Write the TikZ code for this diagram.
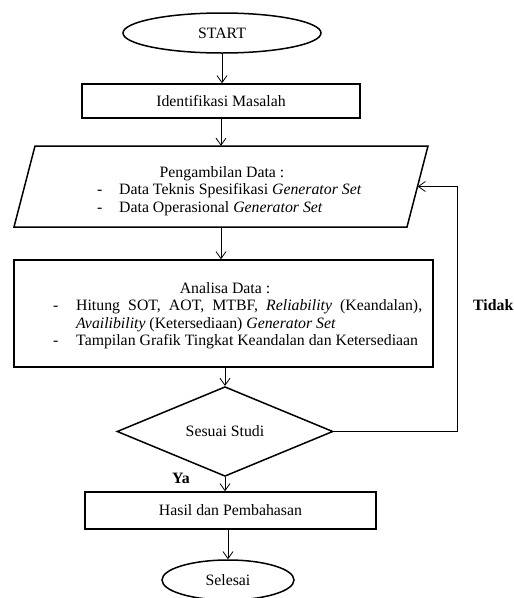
\documentclass[tikz,border=0pt]{standalone}
\usepackage{fontspec}
\setmainfont{Liberation Serif}
\usetikzlibrary{shapes.geometric,arrows.meta}
\begin{document}
\begin{tikzpicture}[x=1pt,y=-1pt,
  box/.style={draw, line width=1.5pt, inner sep=0pt},
  arr/.style={-{Straight Barb[length=7pt,width=10pt]}, line width=0.8pt},
  txt/.style={inner sep=0pt},
  lbl/.style={inner sep=0pt, font=\fontsize{15.8}{17.5}\selectfont\bfseries},
  font=\fontsize{15.8}{17.5}\selectfont]
\useasboundingbox (0,0) rectangle (514,598);

% shapes
\node[box, ellipse, minimum width=198pt, minimum height=40pt] (start) at (222,33) {START};
\node[box, rectangle, minimum width=278pt, minimum height=34pt] (ident) at (221,101) {Identifikasi Masalah};
% parallelogram (drawn directly), with an invisible node for its anchors
\draw[line width=1.5pt, line join=miter] (14,227) -- (35,146) -- (428,146) -- (407,227) -- cycle;
\node[inner sep=0pt, minimum width=393pt, minimum height=81pt] (pdata) at (221,186.5) {};
\node[box, rectangle, minimum width=419pt, minimum height=107pt] (analisa) at (223.5,313.5) {};
\node[box, diamond, minimum width=216pt, minimum height=63pt] (dec) at (225,431.5) {Sesuai Studi};
\node[box, rectangle, minimum width=291pt, minimum height=37pt] (hasil) at (230.5,510.5) {Hasil dan Pembahasan};
\node[box, ellipse, minimum width=132pt, minimum height=40pt] (selesai) at (228,580) {Selesai};

% texts inside the data shapes
\node[txt, anchor=base] (ptitle) at (222,177) {Pengambilan Data :};
\node[txt, anchor=base west] (plist) at (97,194.5) {\begin{tabular}[t]{@{}p{22pt}@{}l@{}}-&Data Teknis Spesifikasi \textit{Generator Set}\\-&Data Operasional \textit{Generator Set}\end{tabular}};
\node[txt, anchor=base] (atitle) at (225,293) {Analisa Data :};
\node[txt, anchor=base west] (alist) at (53,310.5) {\begin{tabular}[t]{@{}p{23pt}@{}p{346pt}@{}}-&Hitung SOT, AOT, MTBF, \textit{Reliability} (Keandalan),\linebreak \textit{Availibility} (Ketersediaan) \textit{Generator Set}\\-&Tampilan Grafik Tingkat Keandalan dan Ketersediaan\end{tabular}};

% labels
\node[lbl, anchor=west] (tidak) at (473,305) {Tidak};
\node[lbl] (ya) at (181,478) {Ya};

% connectors
\draw[arr] (start.south) -- (start.south |- ident.north);
\draw[arr] (ident) -- (ident |- pdata.north);
\draw[arr] (pdata.south) -- (pdata.south |- analisa.north);
\draw[arr] (dec.north |- analisa.south) -- (dec.north);
\draw[arr] (dec.south) -- (dec.south |- hasil.north);
\draw[arr] (selesai |- hasil.south) -- (selesai.north);
\coordinate (fb) at ([xshift=40pt]pdata.east);
\draw[arr] (dec.east) -| (fb) -- (pdata.east);
\end{tikzpicture}
\end{document}
